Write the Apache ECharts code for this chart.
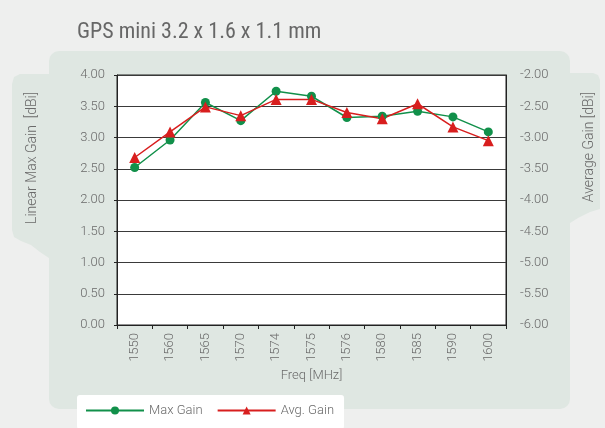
<!DOCTYPE html>
<html>
<head>
<meta charset="utf-8">
<script src="https://cdn.jsdelivr.net/npm/echarts@6/dist/echarts.min.js"></script>
<style>
  html, body { margin: 0; padding: 0; background: #eeefee; }
  #chart { width: 605px; height: 428px; }
</style>
</head>
<body>
<div id="chart"></div>
<script>
// frequencies on the x axis
const freqs = ['1550', '1560', '1565', '1570', '1574', '1575', '1576', '1580', '1585', '1590', '1600'];
// linear max gain, left axis [dBi]
const maxGain = [2.52, 2.96, 3.56, 3.27, 3.74, 3.66, 3.32, 3.34, 3.42, 3.33, 3.09];
// average gain, right axis [dBi]
const avgGain = [-3.32, -2.91, -2.51, -2.65, -2.39, -2.39, -2.60, -2.70, -2.46, -2.83, -3.05];

const labelFont = { color: '#6a6a6a', fontSize: 13, fontFamily: 'Roboto', fontWeight: 300 };
const panel = '#dfe7e2';

const myChart = echarts.init(document.getElementById('chart'));
const option = {
  backgroundColor: '#eeefee',
  animation: false,
  title: {
    text: 'GPS mini 3.2 x 1.6 x 1.1 mm',
    left: 72, top: 16,
    textStyle: { color: '#676767', fontSize: 22, fontWeight: 'normal', fontFamily: "'Liberation Sans Narrow', 'Roboto Condensed', Roboto" }
  },
  graphic: [
    // left tab, curved at the bottom
    { type: 'polygon', z: -10, shape: { points: [[12, 84], [14, 77], [20, 74], [60, 74], [60, 262], [49, 258], [40, 252], [31, 245], [21, 241], [14, 237], [12, 230]] }, style: { fill: panel } },
    // right tab
    { type: 'polygon', z: -10, shape: { points: [[560, 73], [593, 73], [598, 75], [600, 80], [600, 209], [590, 212], [578, 218], [570, 223], [560, 228]] }, style: { fill: panel } },
    // main panel
    { type: 'rect', z: -10, shape: { x: 49, y: 51, width: 521, height: 358, r: 10 }, style: { fill: panel } },
    { type: 'text', z: 10, left: 25, top: 92, rotation: Math.PI / 2, style: { text: 'Linear Max Gain  [dBi]', fill: '#6a6a6a', font: '300 14px Roboto' } },
    { type: 'text', z: 10, left: 582, top: 92, rotation: Math.PI / 2, style: { text: 'Average Gain [dBi]', fill: '#6a6a6a', font: '300 14px Roboto' } }
  ],
  legend: {
    left: 77, top: 395,
    padding: [9, 10, 12, 8],
    backgroundColor: '#fff',
    borderRadius: 3,
    itemWidth: 58, itemHeight: 10, itemGap: 14,
    textStyle: labelFont,
    data: ['Max Gain', 'Avg. Gain']
  },
  grid: { left: 117, right: 99, top: 75, bottom: 103, show: true, backgroundColor: '#fff', borderColor: '#222', borderWidth: 1 },
  xAxis: {
    type: 'category',
    data: freqs,
    name: 'Freq [MHz]',
    nameLocation: 'middle',
    nameGap: 44,
    nameTextStyle: labelFont,
    axisLine: { lineStyle: { color: '#222' } },
    axisTick: { show: true, length: 4, lineStyle: { color: '#222' } },
    axisLabel: Object.assign({ rotate: 90, margin: 8 }, labelFont)
  },
  yAxis: [
    {
      type: 'value', min: 0, max: 4, interval: 0.5,
      axisLine: { show: true, lineStyle: { color: '#222' } },
      axisTick: { show: true, length: 3, lineStyle: { color: '#222' } },
      axisLabel: Object.assign({ formatter: v => v.toFixed(2), margin: 12 }, labelFont),
      splitLine: { lineStyle: { color: '#3a3a3a' } }
    },
    {
      type: 'value', min: -6, max: -2, interval: 0.5,
      axisLine: { show: true, lineStyle: { color: '#222' } },
      axisTick: { show: false },
      axisLabel: Object.assign({ formatter: v => v.toFixed(2), margin: 14 }, labelFont),
      splitLine: { show: false }
    }
  ],
  series: [
    {
      name: 'Max Gain', type: 'line', yAxisIndex: 0, data: maxGain,
      symbol: 'circle', symbolSize: 9,
      itemStyle: { color: '#11904a' },
      lineStyle: { color: '#11904a', width: 1.5 }
    },
    {
      name: 'Avg. Gain', type: 'line', yAxisIndex: 1, data: avgGain,
      symbol: 'triangle', symbolSize: 11,
      itemStyle: { color: '#d81e1e' },
      lineStyle: { color: '#d81e1e', width: 1.5 }
    }
  ]
};
myChart.setOption(option);
</script>
</body>
</html>
